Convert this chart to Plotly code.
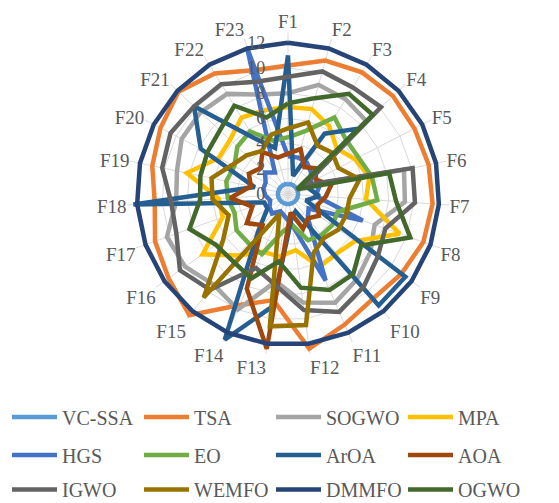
import plotly.graph_objects as go

# Function labels around the radar
categories = ["F1", "F2", "F3", "F4", "F5", "F6", "F7", "F8", "F9", "F10", "F11", "F12",
              "F13", "F14", "F15", "F16", "F17", "F18", "F19", "F20", "F21", "F22", "F23"]

# Per-function values for each algorithm (F1..F23)
vc_ssa = [0.8, 0.8, 0.8, 0.8, 0.8, 0.8, 0.8, 0.8, 0.8, 0.8, 0.8, 0.8,
          0.8, 0.8, 0.8, 0.8, 0.8, 0.8, 0.8, 0.8, 0.8, 0.8, 0.8]
tsa = [10.2, 11.0, 11.3, 11.4, 11.3, 11.4, 11.5, 11.4, 11.0, 10.7, 11.3, 12.4,
       8.5, 9.6, 12.4, 11.6, 11.2, 10.6, 11.0, 11.4, 11.9, 11.2, 10.2]
sogwo = [8.0, 9.0, 8.8, 8.5, 1.5, 9.4, 9.3, 7.3, 8.0, 8.7, 9.4, 8.7,
         7.0, 10.0, 9.3, 10.0, 10.2, 8.9, 9.0, 9.5, 9.5, 9.3, 8.2]
mpa = [6.9, 7.0, 6.3, 5.3, 6.0, 6.6, 6.2, 9.4, 6.5, 6.1, 6.3, 4.5,
       5.0, 5.0, 6.3, 8.3, 5.5, 5.5, 8.2, 6.2, 6.3, 7.1, 6.9]
hgs = [3.0, 3.0, 2.9, 2.5, 2.0, 2.5, 2.2, 6.3, 2.0, 2.5, 7.5, 2.5,
       1.8, 1.5, 2.0, 1.8, 1.5, 1.8, 2.0, 2.0, 2.5, 2.0, 12.0]
eo = [4.5, 5.2, 7.1, 6.3, 6.3, 6.8, 7.1, 4.2, 4.3, 4.2, 4.0, 2.5,
      3.0, 5.2, 5.0, 5.0, 4.5, 4.8, 5.0, 4.8, 5.5, 5.8, 4.4]
aroa = [11.0, 1.5, 5.6, 7.6, 1.5, 1.8, 2.5, 1.5, 11.4, 11.4, 1.5, 2.0,
        9.0, 12.6, 3.7, 2.0, 2.0, 12.3, 2.7, 7.8, 10.2, 5.2, 3.8]
aoa = [3.2, 3.7, 2.5, 3.0, 2.5, 3.5, 3.0, 2.5, 3.0, 2.5, 3.0, 1.5,
       12.4, 8.2, 3.2, 4.0, 3.0, 4.6, 3.0, 3.5, 3.0, 3.9, 3.0]
igwo = [9.3, 10.1, 9.9, 10.1, 1.5, 10.1, 10.1, 8.2, 8.7, 9.5, 10.2, 9.3,
        7.3, 6.4, 9.8, 10.5, 9.4, 9.3, 10.2, 10.5, 10.2, 10.2, 9.25]
wemfo = [5.2, 5.9, 4.5, 4.8, 4.5, 5.8, 4.9, 4.9, 4.9, 4.5, 5.1, 10.5,
         10.6, 1.7, 10.6, 6.3, 5.0, 6.0, 6.2, 5.0, 4.5, 4.0, 4.9]
dmmfo = [12.0, 12.0, 12.0, 12.0, 12.0, 12.0, 12.0, 12.0, 12.0, 12.0, 12.0, 12.0,
         12.0, 12.0, 12.0, 12.0, 12.0, 12.0, 12.0, 12.0, 12.0, 12.0, 12.0]
ogwo = [7.2, 7.9, 9.3, 9.2, 0.8, 8.2, 8.6, 10.3, 7.1, 8.2, 8.3, 7.5,
        5.4, 7.3, 6.9, 7.0, 8.3, 7.0, 7.1, 7.2, 7.4, 8.2, 6.3]

series_names = ["VC-SSA", "TSA", "SOGWO", "MPA", "HGS", "EO",
                "ArOA", "AOA", "IGWO", "WEMFO", "DMMFO", "OGWO"]
series_values = [vc_ssa, tsa, sogwo, mpa, hgs, eo, aroa, aoa, igwo, wemfo, dmmfo, ogwo]
series_colors = ["#5B9BD5", "#ED7D31", "#A5A5A5", "#FFC000", "#4472C4", "#70AD47",
                 "#255E91", "#9E480E", "#636363", "#997300", "#264478", "#43682B"]

radial_ticks = [0, 2, 4, 6, 8, 10, 12]

FONT = "Liberation Serif, Times New Roman, serif"
TEXT = "#595959"
W, H = 559, 503

fig = go.Figure()
for i, (name, vals, col) in enumerate(zip(series_names, series_values, series_colors)):
    legend_id = ["legend", "legend2", "legend3"][i // 4]
    fig.add_trace(go.Scatterpolar(
        r=vals + vals[:1],
        theta=categories + categories[:1],
        mode="lines",
        name=name,
        line=dict(color=col, width=4.5),
        legend=legend_id,
    ))

# polar area: centre (288, 194) px, 12.6 px per unit, range to 12.8
cx, cy, rad = 288, 194, 12.6 * 12.8
dom_x = [(cx - rad) / W, (cx + rad) / W]
dom_y = [(H - cy - rad) / H, (H - cy + rad) / H]

legend_common = dict(
    orientation="h", xanchor="left", x=7 / W,
    entrywidth=72, entrywidthmode="pixels", itemwidth=45,
    font=dict(family=FONT, size=20, color=TEXT),
    bgcolor="rgba(0,0,0,0)",
)

fig.update_layout(
    width=W, height=H,
    margin=dict(l=0, r=0, t=0, b=0, autoexpand=False),
    paper_bgcolor="white",
    font=dict(family=FONT, color=TEXT),
    polar=dict(
        domain=dict(x=dom_x, y=dom_y),
        gridshape="linear",
        bgcolor="white",
        radialaxis=dict(
            range=[0, 12.8], tickvals=radial_ticks, showline=False,
            gridcolor="#D9D9D9", gridwidth=1, angle=90, tickangle=90,
            side="counterclockwise", ticks="outside", ticklen=16,
            tickcolor="rgba(0,0,0,0)",
            tickfont=dict(family=FONT, size=18, color=TEXT),
        ),
        angularaxis=dict(
            direction="clockwise", rotation=90, showline=False,
            gridcolor="#D9D9D9", gridwidth=1, ticks="",
            tickfont=dict(family=FONT, size=19, color=TEXT),
        ),
    ),
    legend=dict(**legend_common, yanchor="middle", y=1 - 417 / H),
    legend2=dict(**legend_common, yanchor="middle", y=1 - 455 / H),
    legend3=dict(**legend_common, yanchor="bottom", y=-0.012),
)

fig.write_html("out.html")
